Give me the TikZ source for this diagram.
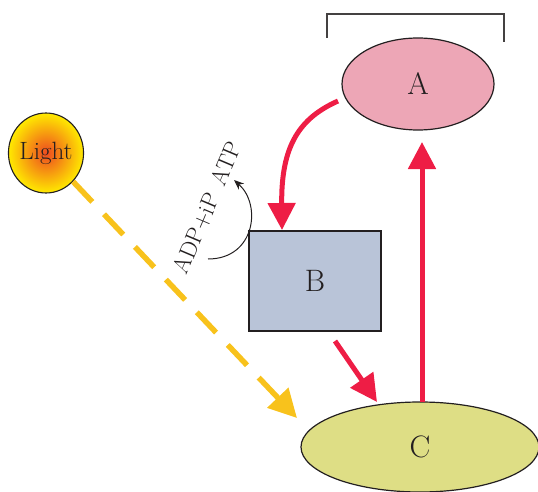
\documentclass[tikz,border=0pt]{standalone}
\usepackage{fontspec}
\usetikzlibrary{arrows.meta,shapes.geometric}
\definecolor{redarr}{HTML}{EE1D45}
\definecolor{yelarr}{HTML}{F8C21C}
\definecolor{pinkA}{HTML}{EDA6B6}
\definecolor{blueB}{HTML}{B9C4D8}
\definecolor{greenC}{HTML}{DEDE85}
\definecolor{ink}{HTML}{231F20}
\definecolor{lightin}{HTML}{EE4A20}
\definecolor{lightout}{HTML}{FFEA00}
\begin{document}
\begin{tikzpicture}[x=1pt,y=-1pt,
  outl/.style={draw=ink,line width=1.2pt},
  bigtxt/.style={font=\fontsize{31}{33}\selectfont,text=ink},
  redflow/.style={draw=redarr,line width=5pt,-{Triangle[length=27pt,width=27pt]}},
  lightflow/.style={draw=yelarr,line width=5.5pt,dash pattern=on 28pt off 17pt,-{Triangle[length=28pt,width=28pt]}},
  smalltxt/.style={font=\fontsize{23.5}{25}\selectfont,text=ink,inner sep=0pt,rotate=67}
]
\useasboundingbox (0,0) rectangle (538,492);
% bracket
\coordinate (k1) at (327,38);
\coordinate (k2) at (327,14);
\coordinate (k3) at (504,14);
\coordinate (k4) at (504,42);
\draw[draw=ink!85,line width=1.2pt] (k1) -- (k2) -- (k3) -- (k4);
% nodes
\node[ellipse,outl,fill=pinkA,minimum width=152pt,minimum height=92pt,inner sep=0pt,bigtxt] (A) at (418,84) {A};
\node[rectangle,outl,fill=blueB,minimum width=132pt,minimum height=100pt,inner sep=0pt,bigtxt] (B) at (315,281) {B};
\node[ellipse,outl,fill=greenC,minimum width=238pt,minimum height=90pt,inner sep=0pt,bigtxt] (C) at (420,447) {C};
\node[ellipse,draw=ink,line width=1.1pt,inner color=lightin,outer color=lightout,minimum width=75pt,minimum height=80pt,inner sep=0pt,font=\fontsize{25}{27}\selectfont,text=ink] (L) at (46,153) {Light};
% helper coordinates
\coordinate (a0) at (338,101);
\coordinate (b0) at (282,230);
\coordinate (b1) at (335,341);
\coordinate (c0) at (377,402);
\coordinate (c1) at (422,402);
\coordinate (a1) at (422,142);
\coordinate (y1) at (297,418);
\coordinate (p0) at (208,259);
\coordinate (p1) at (234,180);
% red arrows
\draw[redflow] (a0) .. controls (300,118) and (281,145) .. (b0);
\draw[redflow] (b1) -- (c0);
\draw[redflow] (c1) -- (a1);
% light arrow
\draw[lightflow] (L) -- (y1);
% ATP arc
\draw[draw=ink,line width=1pt,-{Stealth[length=10pt,width=8pt]}] (p0) .. controls (255,259) and (262,205) .. (p1);
\node[smalltxt] (adp) at (207.6,207.8) {ADP+iP\hspace{11pt}ATP};
\end{tikzpicture}
\end{document}
